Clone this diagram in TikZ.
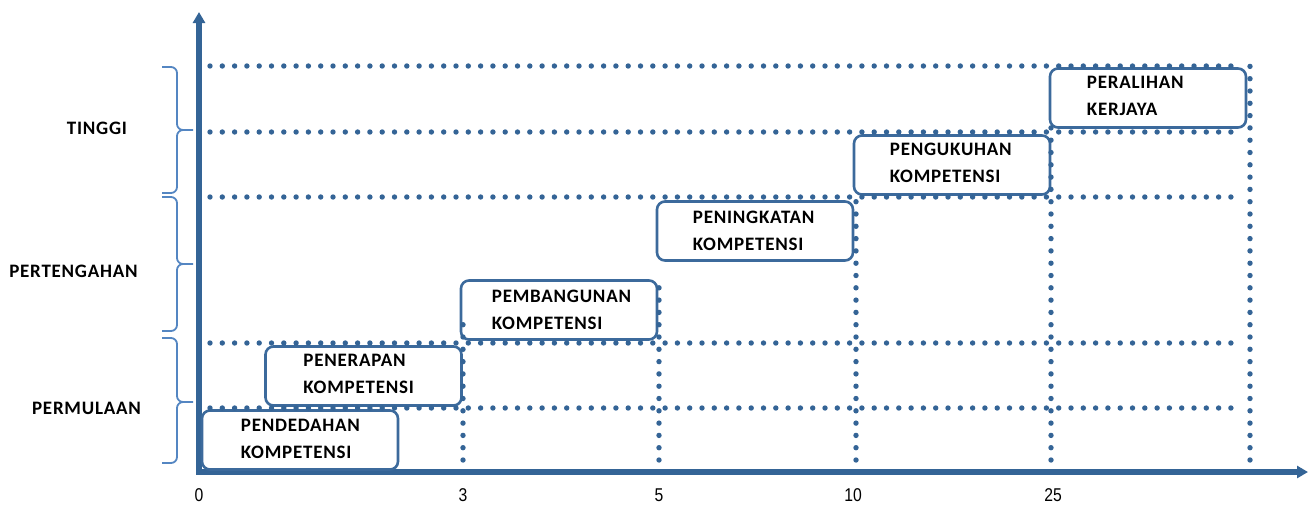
\documentclass[tikz,border=0pt]{standalone}
\usepackage{fontspec}
\setmainfont{Carlito}
\newfontfamily\labelfont[LetterSpace=4]{Carlito}
\newfontfamily\numfont[FakeStretch=0.85]{Liberation Sans}
\usetikzlibrary{arrows.meta}
\definecolor{axisblue}{RGB}{52,100,150}
\definecolor{boxblue}{RGB}{60,106,156}
\definecolor{braceblue}{RGB}{84,134,194}

\begin{document}
\begin{tikzpicture}[x=1pt, y=-1pt,
  griddots/.style={axisblue, line width=5.4pt, line cap=round, dash pattern=on 0pt off 12.3pt},
  stepbox/.style={draw=boxblue, line width=2.6pt, fill=white, rounded corners=8pt, minimum width=196pt, minimum height=59pt, inner sep=0pt},
  steptext/.style={anchor=base west, align=left, inner sep=0pt, font=\labelfont\bfseries\fontsize{19}{27}\selectfont},
  levellabel/.style={inner sep=0pt, font=\labelfont\bfseries\fontsize{19}{23}\selectfont},
  yearlabel/.style={inner sep=0pt, font=\numfont\fontsize{18.5}{20}\selectfont},
  levelbrace/.style={braceblue, line width=1.8pt, rounded corners=6pt}]
\useasboundingbox (0,0) rectangle (1311,504);
\coordinate (origin) at (199,472);
\coordinate (ytop) at (199,12);
\coordinate (xend) at (1308,472);
\draw[axisblue, line width=5.5pt, -{Triangle[length=11pt,width=12pt]}] (origin) -- (ytop);
\draw[axisblue, line width=5.5pt, -{Triangle[length=11pt,width=12pt]}] (196.25,472) -- (xend);
% levels
\node[levellabel] (tinggi) at (97,128) {TINGGI};
\node[levellabel] (pertengahan) at (73.5,271) {PERTENGAHAN};
\node[levellabel] (permulaan) at (86.5,408) {PERMULAAN};
\foreach \top/\mid/\bot in {67/130/193, 197/264/331, 338/402/463}
  \draw[levelbrace] (162,\top) -- (177,\top) -- (177,\mid) -- (193,\mid)
                    (193,\mid) -- (177,\mid) -- (177,\bot) -- (162,\bot);
% steps
\node[stepbox] (pendedahan) at (300,440) {};
\node[steptext] (pendedahantext) at ([shift={(40,49)}]pendedahan.north west) {PENDEDAHAN\\KOMPETENSI};
\node[stepbox] (penerapan) at (363.5,376) {};
\node[steptext] (penerapantext) at ([shift={(39,48)}]penerapan.north west) {PENERAPAN\\KOMPETENSI};
\node[stepbox] (pembangunan) at (559,310) {};
\node[steptext] (pembangunantext) at ([shift={(32,50)}]pembangunan.north west) {PEMBANGUNAN\\KOMPETENSI};
\node[stepbox] (peningkatan) at (755,231) {};
\node[steptext] (peningkatantext) at ([shift={(37,50)}]peningkatan.north west) {PENINGKATAN\\KOMPETENSI};
\node[stepbox] (pengukuhan) at (952,165) {};
\node[steptext] (pengukuhantext) at ([shift={(37,48)}]pengukuhan.north west) {PENGUKUHAN\\KOMPETENSI};
\node[stepbox] (peralihan) at (1148,98) {};
\node[steptext] (peralihantext) at ([shift={(38,48)}]peralihan.north west) {PERALIHAN\\KERJAYA};
% grid
\foreach \y in {66,132,197,343,408} \draw[griddots] (210,\y) -- (1234,\y);
\foreach \x/\top in {463/322, 659/285, 856/200, 1051/117, 1250/66} \draw[griddots] (\x,460) -- (\x,\top);
\foreach \x/\yr in {199/0, 463/3, 659/5, 853/10, 1053/25} \node[yearlabel] (year\yr) at (\x,495) {\yr};
\end{tikzpicture}
\end{document}
